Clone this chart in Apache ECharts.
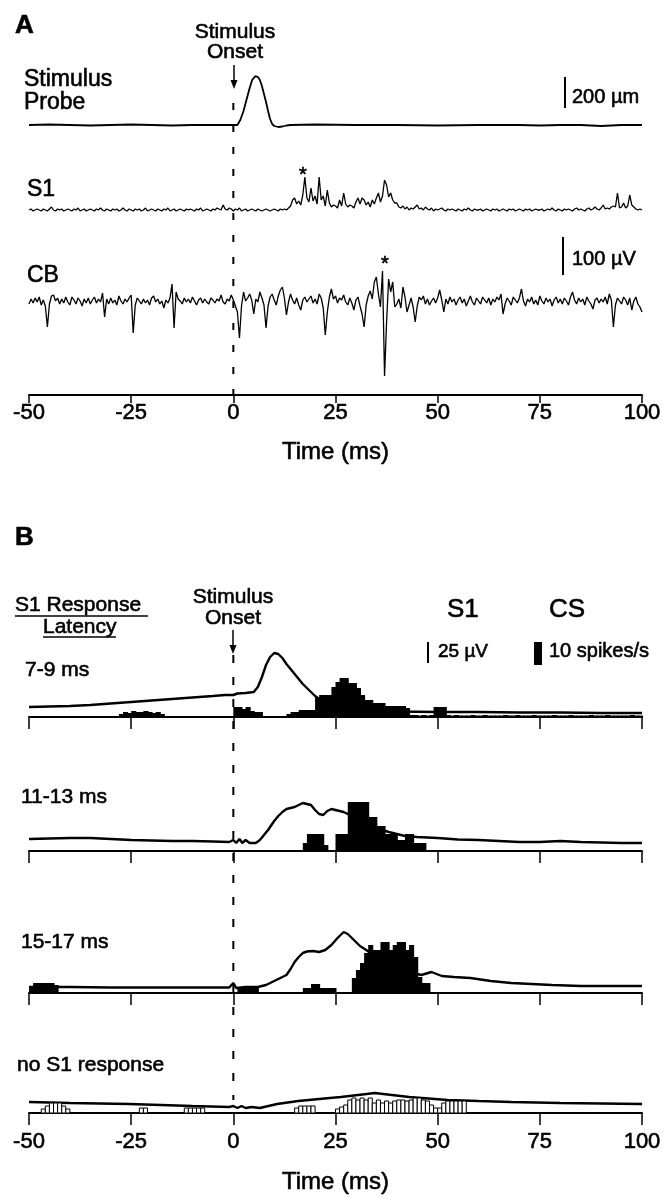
<!DOCTYPE html>
<html>
<head>
<meta charset="utf-8">
<script src="https://cdn.jsdelivr.net/npm/echarts/dist/echarts.min.js"></script>
<style>
html, body { margin: 0; background: #fff; }
#chart { width: 666px; height: 1198px; }
</style>
</head>
<body>
<div id="chart"></div>
<script>
// trace units: 1 unit = 1 px of the printed figure
// (probe: 31 units = 200 um, CB/S1: 38 units = 100 uV, panel B: 21 = 25 uV, 23 = 10 spikes/s)
var onsetTime = 0;
var tickLabels = ['-50', '-25', '0', '25', '50', '75', '100'];

var probeTimes = [-50, -45, -40, -35, -30, -25, -20, -15, -10, -5,
    0, 1, 1.7, 2.5, 3.4, 4, 4.6, 5.4, 6, 6.5,
    7, 7.5, 8, 8.5, 9, 9.5, 10, 11, 12, 13,
    14, 20, 30, 40, 50, 60, 70, 75, 80, 85,
    90, 95, 100];
var probeVals = [0, 0.5, 0, -0.5, 0, 0.5, 0, -0.5, 0, 0,
    0, 0, 5, 14, 28, 37, 45, 49, 48, 45,
    39, 31, 23, 14, 6, 1, -1, -2, -1.5, -0.5,
    0, 0.5, 0, 0, -0.5, 0, 0, -0.5, 0, 0,
    -1, 0, 0];

// S1 and CB raw traces, one sample every 0.5 ms from -50 ms
var s1Trace = [
    0, 1, -1, 0, 1, 0, -1, 1, 0, -1,
    1, 3, 0, -1, 1, 0, 1, -1, 0, 1,
    0, -1, 1, 0, 2, -1, 0, 1, -1, 0,
    1, 0, -1, 1, 0, 2, 0, -1, 1, 0,
    -1, 1, 0, 1, -1, 0, 2, 0, -1, 1,
    0, -1, 1, 0, 1, -1, 0, 2, -1, 0,
    1, 0, -1, 1, 0, -1, 1, 0, 2, -1,
    0, 1, -1, 0, 1, 0, -1, 1, 0, 1,
    0, -1, 1, 0, 2, -1, 0, 1, 0, -1,
    1, 0, 2, 1, 0, 5, 1, 0, 2, 1,
    -1, 1, 0, 2, -1, 0, 1, -1, 0, 1,
    0, -1, 1, 0, -1, 0, 1, 0, -1, 0,
    1, 0, -1, 1, 0, 1, 0, 2, 4, 10,
    12, 6, 9, 5, 15, 33, 12, 8, 22, 9,
    14, 6, 33, 10, 14, 4, 20, 7, 3, 5,
    4, 2, 10, 4, 17, 6, 3, 5, 4, 2,
    8, 12, 6, 12, 10, 5, 8, 3, 10, 6,
    12, 17, 8, 14, 30, 25, 13, 17, 10, 7,
    7, 3, 2, 4, 1, 3, 0, 2, 1, 3,
    5, 1, 2, 0, 3, 1, 0, 2, -1, 1,
    0, 1, 2, 0, -1, 1, 0, 1, 0, -1,
    1, 0, -1, 1, 0, 2, 0, -1, 1, 0,
    0, 1, -1, 0, 1, 0, -1, 1, 0, 1,
    -1, 0, 1, 0, -1, 1, 0, 1, -1, 0,
    1, 0, -1, 1, 0, 1, -1, 0, 1, 0,
    0, 1, -1, 0, 1, 0, 2, 0, -1, 1,
    0, -1, 1, 0, 1, 0, -1, 1, 2, 0,
    1, 0, -1, 1, 2, 0, 1, 3, 1, 0,
    2, 5, 1, 2, 1, 3, 4, 3, 17, 2,
    3, 7, 2, 4, 15, 5, 3, 1, 0, 1,
    0];
var cbTrace = [
    -2, 3, -1, 4, 0, 5, -3, 2, -4, -25,
    -2, 6, 7, 1, 4, -2, 3, -1, 5, 0,
    -3, 5, 2, -2, 4, 1, -4, 3, -1, 4,
    -2, 2, 5, -1, 3, 0, 9, -15, 3, -2,
    4, -1, 2, -3, 6, 1, -2, 3, 0, 4,
    7, -31, -3, 4, 1, -2, 3, -1, 2, -3,
    4, 6, 0, 3, -2, 1, -6, 2, -1, 4,
    18, -26, 10, 3, 1, -2, 4, 0, 3, -1,
    5, 1, -3, 2, 4, -1, 3, 0, -2, 4,
    2, -1, 3, 1, 7, 0, -2, 3, 1, 7,
    2, -4, -10, -36, -4, 10, 1, 4, 8, 2,
    -12, 3, 0, 10, 4, -3, -26, -4, 5, 8,
    2, -3, 6, 12, 15, 4, -13, 0, 8, 2,
    -2, 4, -3, -8, 2, 5, 0, 3, 6, -1,
    3, -2, 8, 4, -6, -33, -10, 5, 13, 3,
    6, -1, 4, 2, 7, 0, -3, 4, -1, -8,
    2, 5, -4, -12, -25, -3, 6, 11, 3, 20,
    25, 8, -5, 31, -74, -20, 23, 10, 20, -5,
    -2, 3, -6, 15, 5, -10, -3, 4, -5, -20,
    -4, 5, 2, 6, -2, 3, -3, 1, 4, -1,
    4, 12, 2, -10, 3, -2, 5, 0, 3, -3,
    2, 5, -1, 3, -4, 1, 6, 0, -3, 4,
    1, -2, 5, 2, -1, 4, -3, 3, 0, 5,
    2, 8, -12, -2, 4, 1, -3, 5, 2, -1,
    4, 13, 1, -4, 3, 0, 5, -2, 2, -3,
    6, 1, -2, 4, 0, 3, -4, 2, 5, -1,
    3, -2, 4, 1, -3, 5, 10, 2, -2, 4,
    0, 3, -3, 5, 1, -2, -7, 2, 4, -1,
    3, 0, 5, -2, 8, 2, -25, -3, 4, 1,
    -2, 5, 2, -3, 4, -8, 1, 5, -2, -5,
    -10];

// panel B: averaged S1 response per latency group, [time, height]
var rowLabels = ['7-9 ms', '11-13 ms', '15-17 ms', 'no S1 response'];
var s1Avg1 = [[-50, 10], [-45, 10.5], [-40, 11], [-35, 12], [-30, 13.5], [-25, 15], [-20, 16.5], [-15, 18],
    [-10, 19.5], [-5, 21], [-2, 22], [0, 22], [1, 23.5], [3, 24], [5, 25], [6, 30], [7, 40], [8, 52],
    [9, 60], [10, 64], [11, 63], [12, 59], [13, 53], [14, 48], [15, 43], [16, 38], [17, 33], [18, 29],
    [19, 25], [20, 21], [22, 15], [24, 11], [27, 8], [30, 7], [35, 6], [40, 5.5], [50, 5], [60, 5],
    [70, 4.5], [80, 4.5], [90, 4], [100, 4]];
var s1Avg2 = [[-50, 12], [-45, 12.5], [-40, 13], [-35, 13], [-30, 12], [-25, 11], [-20, 10.5], [-15, 10],
    [-10, 10], [-5, 9.5], [-1, 9], [0, 11], [0.7, 8], [1.5, 12], [2.2, 8], [3, 11], [4, 8], [5.5, 8],
    [6.5, 11], [7.5, 16], [8.5, 21], [10, 30], [11, 35], [12, 39], [13, 42], [14, 43], [15, 44], [16, 46],
    [17, 48], [18, 47], [19, 46], [20, 41], [21, 37], [22, 36], [23, 40], [24, 42], [25, 41], [26, 40],
    [27, 39], [29, 35], [32, 28], [35, 23], [38, 19], [42, 15], [45, 14], [50, 13], [55, 11.5], [60, 11],
    [65, 10], [70, 9], [75, 9], [80, 10], [85, 9], [90, 8.5], [95, 8], [100, 8]];
var s1Avg3 = [[-50, 6], [-40, 6], [-30, 5.5], [-20, 5.5], [-10, 5.5], [-1, 5.5], [0, 10], [0.7, 5],
    [3, 6], [6, 6], [8, 8], [9.5, 11], [11, 14], [13, 18], [14, 24], [15, 31], [16, 36], [17, 40],
    [18, 41.5], [19.5, 42], [21, 41], [22.5, 43], [24, 48], [25.5, 55], [27, 61], [28, 59], [29.5, 53],
    [31, 47], [32.5, 43], [36, 33], [40, 26], [44, 20], [46, 18], [48.5, 21], [51, 17], [54, 16],
    [58, 15], [63, 12], [68, 10], [73, 9], [78, 8], [85, 7], [92, 7], [100, 7]];
var s1Avg4 = [[-50, 11], [-40, 10], [-25.5, 9], [-10, 7], [-1, 6], [0, 7], [1, 5], [2, 7], [3, 5],
    [4.5, 6], [6.5, 5], [10.7, 9], [15.9, 12], [21, 14], [26.3, 16], [32.6, 19], [34.6, 20], [36.7, 19],
    [43, 16], [52.4, 13], [60, 12], [68, 11], [80, 10], [90, 9.5], [100, 9]];

// complex spike PSTHs, 1 ms bins starting at -50 ms
var binWidth = 1;
var cs1 = [
    0, 0, 0, 0, 0, 0, 0, 0, 0, 0,
    0, 0, 0, 0, 0, 0, 0, 0, 0, 0,
    0, 0, 3, 5, 4, 6, 5, 5, 6, 5,
    4, 5, 3, 0, 0, 0, 0, 0, 0, 0,
    0, 0, 0, 0, 0, 0, 0, 0, 0, 0,
    10, 10, 8, 10, 6, 5, 5, 0, 0, 0,
    0, 0, 0, 3, 5, 5, 7, 7, 7, 7,
    20, 22, 22, 22, 30, 35, 39, 39, 34, 34,
    29, 22, 17, 17, 14, 14, 14, 11, 11, 11,
    11, 11, 9, 2, 2, 1.5, 2, 1.5, 2, 10,
    10, 10, 2, 1.5, 2, 1.5, 1.5, 1.5, 2, 1.5,
    1.5, 2, 1.5, 1.5, 1.5, 1.5, 2, 1.5, 1.5, 2,
    1.5, 1.5, 1.5, 2, 1.5, 1.5, 1.5, 1.5, 2, 1.5,
    1.5, 1.5, 2, 1.5, 1.5, 1.5, 1.5, 2, 1.5, 1.5,
    1.5, 2, 1.5, 1.5, 1.5, 1.5, 1.5, 2, 1.5, 1.5];
var cs2 = [
    0, 0, 0, 0, 0, 0, 0, 0, 0, 0,
    0, 0, 0, 0, 0, 0, 0, 0, 0, 0,
    0, 0, 0, 0, 0, 0, 0, 0, 0, 0,
    0, 0, 0, 0, 0, 0, 0, 0, 0, 0,
    0, 0, 0, 0, 0, 0, 0, 0, 0, 0,
    0, 0, 0, 0, 0, 0, 0, 0, 0, 0,
    0, 0, 0, 0, 0, 0, 0, 8, 17, 17,
    17, 17, 6, 0, 0, 17, 17, 17, 49, 49,
    49, 49, 49, 34, 34, 25, 25, 17, 17, 17,
    11, 11, 17, 17, 8, 8, 8, 0, 0, 0,
    0, 0, 0, 0, 0, 0, 0, 0, 0, 0,
    0, 0, 0, 0, 0, 0, 0, 0, 0, 0,
    0, 0, 0, 0, 0, 0, 0, 0, 0, 0,
    0, 0, 0, 0, 0, 0, 0, 0, 0, 0,
    0, 0, 0, 0, 0, 0, 0, 0, 0, 0];
var cs3 = [
    7, 10, 10, 10, 10, 10, 8, 0, 0, 0,
    0, 0, 0, 0, 0, 0, 0, 0, 0, 0,
    0, 0, 0, 0, 0, 0, 0, 0, 0, 0,
    0, 0, 0, 0, 0, 0, 0, 0, 0, 0,
    0, 0, 0, 0, 0, 0, 0, 0, 0, 0,
    0, 6, 6, 6, 6, 6, 0, 0, 0, 0,
    0, 0, 0, 0, 0, 0, 0, 5, 5, 9,
    9, 5, 5, 5, 5, 0, 0, 0, 0, 15,
    23, 30, 40, 48, 43, 43, 51, 51, 43, 48,
    51, 51, 43, 48, 36, 16, 10, 10, 0, 0,
    0, 0, 0, 0, 0, 0, 0, 0, 0, 0,
    0, 0, 0, 0, 0, 0, 0, 0, 0, 0,
    0, 0, 0, 0, 0, 0, 0, 0, 0, 0,
    0, 0, 0, 0, 0, 0, 0, 0, 0, 0,
    0, 0, 0, 0, 0, 0, 0, 0, 0, 0];
var cs4 = [
    0, 0, 0, 4, 7, 10, 10, 10, 7, 4,
    0, 0, 0, 0, 0, 0, 0, 0, 0, 0,
    0, 0, 0, 0, 0, 0, 0, 5, 5, 0,
    0, 0, 0, 0, 0, 0, 0, 0, 5, 5,
    5, 5, 5, 0, 0, 0, 0, 0, 0, 0,
    0, 0, 0, 0, 0, 0, 0, 0, 0, 0,
    0, 0, 0, 0, 0, 5, 7, 7, 7, 7,
    0, 0, 0, 0, 0, 4, 6, 8, 13, 15,
    13, 15, 13, 15, 10, 13, 10, 12, 10, 12,
    13, 13, 12, 13, 15, 15, 13, 12, 8, 5,
    5, 10, 12, 12, 12, 12, 12, 0, 0, 0,
    0, 0, 0, 0, 0, 0, 0, 0, 0, 0,
    0, 0, 0, 0, 0, 0, 0, 0, 0, 0,
    0, 0, 0, 0, 0, 0, 0, 0, 0, 0,
    0, 0, 0, 0, 0, 0, 0, 0, 0, 0];

var FONT = '"Liberation Sans", Arial, sans-serif';
var L = 29, R = 24;
var rowAxisY = [717, 851, 993, 1113];
var rowMax = 80;
var INK = { textBorderColor: '#000', textBorderWidth: 0.6 };

function sampled(vals, t0, dt) {
    return vals.map(function (v, i) { return [t0 + i * dt, v]; });
}
function binned(vals) {
    return vals.map(function (v, i) { return [-50 + i * binWidth, v]; });
}

function histItem(open) {
    return function (params, api) {
        var t = api.value(0), h = api.value(1);
        if (!h) return null;
        var p0 = api.coord([t, h]);
        var p1 = api.coord([t + binWidth, 0]);
        return {
            type: 'rect',
            shape: { x: p0[0], y: p0[1], width: p1[0] - p0[0] + (open ? 0 : 1), height: p1[1] - p0[1] },
            style: open ? { fill: '#fff', stroke: '#000', lineWidth: 1 } : { fill: '#000' }
        };
    };
}

var grids = [
    { left: L, right: R, top: 70, height: 65 },
    { left: L, right: R, top: 170, height: 50 },
    { left: L, right: R, top: 232, height: 150 },
    { left: L, right: R, top: 103, height: 292 }
];
var yRanges = [[-10, 55], [-10, 40], [-80, 70], [0, 1]];
rowAxisY.forEach(function (y) {
    grids.push({ left: L, right: R, top: y - rowMax, height: rowMax });
    yRanges.push([0, rowMax]);
});
grids.push({ left: L, right: R, top: 655, height: 445 });
yRanges.push([0, 1]);

var xAxes = grids.map(function (g, i) {
    var ax = {
        type: 'value', gridIndex: i, min: -50, max: 100, interval: 25,
        show: false, splitLine: { show: false }
    };
    if (i >= 3 && i <= 7) {
        var isA = i === 3, last = i === 7;
        ax.show = true;
        ax.axisLine = { onZero: false, lineStyle: { color: '#000', width: 2 } };
        ax.axisTick = { length: isA ? 8 : 12, lineStyle: { color: '#000', width: 1.5 } };
        ax.axisLabel = Object.assign({
            show: isA || last, margin: isA ? 7 : 18, color: '#000', fontSize: 22, fontFamily: FONT,
            formatter: function (v) { return tickLabels[(v + 50) / 25]; }
        }, INK);
        if (isA || last) {
            ax.name = 'Time (ms)';
            ax.nameLocation = 'middle';
            ax.nameGap = isA ? 45 : 57;
            ax.nameTextStyle = Object.assign({ color: '#000', fontSize: 24, fontFamily: FONT }, INK);
        }
    }
    return ax;
});
var yAxes = yRanges.map(function (r, i) {
    return { type: 'value', gridIndex: i, min: r[0], max: r[1], show: false, splitLine: { show: false } };
});

var thin = { color: '#000', width: 1.3 };
var series = [
    { type: 'line', xAxisIndex: 0, yAxisIndex: 0, symbol: 'none', lineStyle: { color: '#000', width: 1.8 },
      data: probeTimes.map(function (t, i) { return [t, probeVals[i]]; }) },
    { type: 'line', xAxisIndex: 1, yAxisIndex: 1, symbol: 'none', lineStyle: thin, data: sampled(s1Trace, -50, 0.5) },
    { type: 'line', xAxisIndex: 2, yAxisIndex: 2, symbol: 'none', lineStyle: thin, data: sampled(cbTrace, -50, 0.5) },
    { type: 'line', xAxisIndex: 3, yAxisIndex: 3, symbol: 'none',
      lineStyle: { color: '#000', width: 2, type: [7, 15] }, data: [[onsetTime, 1], [onsetTime, 0]] },
    { type: 'line', xAxisIndex: 8, yAxisIndex: 8, symbol: 'none',
      lineStyle: { color: '#000', width: 2, type: [8, 14] }, data: [[onsetTime, 1], [onsetTime, 0]] }
];
[s1Avg1, s1Avg2, s1Avg3, s1Avg4].forEach(function (d, r) {
    series.push({ type: 'line', xAxisIndex: 4 + r, yAxisIndex: 4 + r, symbol: 'none', z: 2,
        lineStyle: { color: '#000', width: 2.4 }, data: d });
});
[cs1, cs2, cs3, cs4].forEach(function (d, r) {
    series.push({ type: 'custom', xAxisIndex: 4 + r, yAxisIndex: 4 + r, z: 3,
        renderItem: histItem(r === 3), data: binned(d) });
});

function txt(s, x, y, size, extra) {
    var st = { text: s, x: x, y: y, fill: '#000', font: size + 'px ' + FONT, align: 'left', verticalAlign: 'middle',
        stroke: '#000', lineWidth: 0.6 };
    Object.assign(st, extra || {});
    return { type: 'text', style: st, z: 10 };
}
function bar(x, y1, y2, w) {
    return { type: 'rect', shape: { x: x - w / 2, y: y1, width: w, height: y2 - y1 }, style: { fill: '#000' }, z: 10 };
}
function arrow(x, y1, y2) {
    return [
        { type: 'line', shape: { x1: x, y1: y1, x2: x, y2: y2 - 6 }, style: { stroke: '#000', lineWidth: 1.5 }, z: 10 },
        { type: 'polygon', shape: { points: [[x - 3.5, y2 - 9], [x + 3.5, y2 - 9], [x, y2]] }, style: { fill: '#000' }, z: 10 }
    ];
}

var graphics = [
    txt('A', 15, 26, 26, { font: 'bold 26px ' + FONT }),
    txt('Stimulus', 235, 32, 21, { align: 'center' }),
    txt('Onset', 235, 52, 21, { align: 'center' }),
    txt('Stimulus', 24, 80, 23),
    txt('Probe', 24, 103, 23),
    txt('S1', 27, 190, 23),
    txt('CB', 27, 276, 23),
    txt('*', 303, 175, 20, { align: 'center' }),
    txt('*', 385, 264, 20, { align: 'center' }),
    bar(565, 77, 108, 2),
    txt('200 \u00b5m', 572, 97, 20),
    bar(563, 237, 275, 2),
    txt('100 \u00b5V', 572, 259, 20),

    txt('B', 15, 538, 26, { font: 'bold 26px ' + FONT }),
    txt('S1 Response', 15, 605, 21),
    { type: 'line', shape: { x1: 15, y1: 616, x2: 148, y2: 616 }, style: { stroke: '#000', lineWidth: 1.5 } },
    txt('Latency', 43, 627, 21),
    { type: 'line', shape: { x1: 43, y1: 637, x2: 116, y2: 637 }, style: { stroke: '#000', lineWidth: 1.5 } },
    txt('Stimulus', 233, 597, 21, { align: 'center' }),
    txt('Onset', 233, 618, 21, { align: 'center' }),
    txt('S1', 447, 610, 26),
    txt('CS', 549, 610, 26),
    bar(428, 642, 663, 2),
    txt('25 \u00b5V', 438, 652, 19),
    bar(538, 642, 665, 8),
    txt('10 spikes/s', 549, 651, 20)
].concat(arrow(234, 65, 89), arrow(233, 630, 654));

var rowLabelPos = [[25, 670], [21, 797], [21, 942], [17, 1065]];
rowLabels.forEach(function (s, r) {
    graphics.push(txt(s, rowLabelPos[r][0], rowLabelPos[r][1], 21));
});

var chart = echarts.init(document.getElementById('chart'), null, { renderer: 'canvas' });
chart.setOption({
    animation: false,
    backgroundColor: '#fff',
    grid: grids,
    xAxis: xAxes,
    yAxis: yAxes,
    series: series,
    graphic: graphics
});
</script>
</body>
</html>
